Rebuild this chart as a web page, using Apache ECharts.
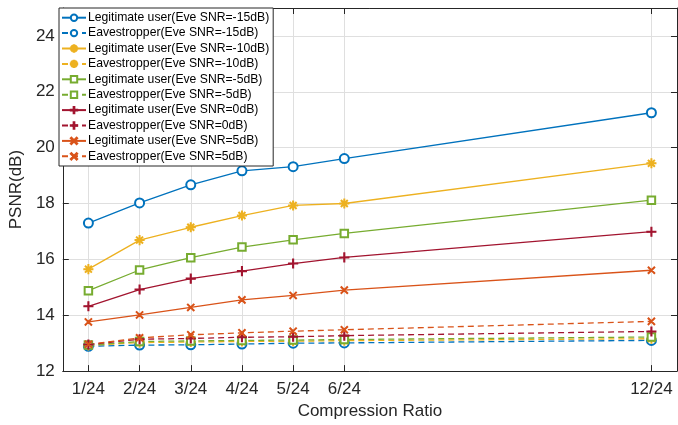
<!DOCTYPE html>
<html><head><meta charset="utf-8">
<script src="https://cdn.jsdelivr.net/npm/echarts@6/dist/echarts.min.js"></script>
<style>html,body{margin:0;padding:0;background:#fff}#c{width:678px;height:425px}</style>
</head><body><div id="c"></div>
<script>
const xValues = [1, 2, 3, 4, 5, 6, 12];
const xTickLabels = ['1/24', '2/24', '3/24', '4/24', '5/24', '6/24', '12/24'];
const yTicks = [12, 14, 16, 18, 20, 22, 24];

const legitM15 = [17.30, 18.02, 18.67, 19.17, 19.32, 19.61, 21.25];
const eveM15   = [12.89, 12.93, 12.94, 12.97, 13.00, 13.01, 13.10];
const legitM10 = [15.65, 16.69, 17.15, 17.57, 17.93, 18.00, 19.44];
const eveM10   = [12.92, 13.02, 13.04, 13.06, 13.07, 13.09, 13.16];
const legitM5  = [14.88, 15.62, 16.06, 16.44, 16.70, 16.93, 18.12];
const eveM5    = [12.93, 13.06, 13.08, 13.10, 13.11, 13.13, 13.22];
const legit0   = [14.32, 14.92, 15.31, 15.58, 15.85, 16.07, 16.99];
const eve0     = [12.95, 13.14, 13.17, 13.21, 13.23, 13.27, 13.42];
const legit5   = [13.76, 14.01, 14.28, 14.55, 14.71, 14.90, 15.61];
const eve5     = [12.96, 13.19, 13.30, 13.37, 13.43, 13.48, 13.78];

const seriesNames = [
  'Legitimate user(Eve SNR=-15dB)', 'Eavestropper(Eve SNR=-15dB)',
  'Legitimate user(Eve SNR=-10dB)', 'Eavestropper(Eve SNR=-10dB)',
  'Legitimate user(Eve SNR=-5dB)', 'Eavestropper(Eve SNR=-5dB)',
  'Legitimate user(Eve SNR=0dB)', 'Eavestropper(Eve SNR=0dB)',
  'Legitimate user(Eve SNR=5dB)', 'Eavestropper(Eve SNR=5dB)'
];
const seriesData = [legitM15, eveM15, legitM10, eveM10, legitM5, eveM5, legit0, eve0, legit5, eve5];

function segPath(segs, w) {
  return 'path://' + segs.map(([x1, y1, x2, y2]) => {
    const dx = x2 - x1, dy = y2 - y1, L = Math.hypot(dx, dy);
    const nx = -dy / L * w, ny = dx / L * w;
    return `M${x1 + nx},${y1 + ny}L${x2 + nx},${y2 + ny}L${x2 - nx},${y2 - ny}L${x1 - nx},${y1 - ny}Z`;
  }).join('');
}
const plusSym = segPath([[5, 0, 5, 10], [0, 5, 10, 5]], 0.55);
const crossSym = segPath([[0.5, 0.5, 9.5, 9.5], [0.5, 9.5, 9.5, 0.5]], 0.65);
const starSym = segPath([[5, 0, 5, 10], [0, 5, 10, 5], [1.6, 1.6, 8.4, 8.4], [1.6, 8.4, 8.4, 1.6]], 0.5);

const colors = ['#0072BD', '#0072BD', '#EDB120', '#EDB120', '#77AC30', '#77AC30', '#A2142F', '#A2142F', '#D95319', '#D95319'];
const symbols = ['emptyCircle', 'emptyCircle', starSym, starSym, 'emptyRect', 'emptyRect', plusSym, plusSym, crossSym, crossSym];
const sizes = [9, 9, 9, 9, 7.5, 7.5, 9, 9, 7, 7];

const axisColor = '#262626';
const font = 'Liberation Sans, Arial, Helvetica, sans-serif';

const series = seriesNames.map((name, i) => ({
  name, type: 'line',
  data: xValues.map((x, j) => [x, seriesData[i][j]]),
  symbol: symbols[i], symbolSize: sizes[i],
  lineStyle: { color: colors[i], width: 1.3, type: i % 2 ? [6, 4] : 'solid' },
  itemStyle: { color: colors[i], borderColor: colors[i], borderWidth: 1.1 },
  z: 3
}));

const chart = echarts.init(document.getElementById('c'), null, { renderer: 'canvas' });
chart.setOption({
  animation: false,
  color: colors,
  grid: { left: 59, right: 1, top: 8, bottom: 50, show: false },
  legend: {
    orient: 'vertical', left: 59, top: 8,
    backgroundColor: '#fff', borderColor: axisColor, borderWidth: 1,
    padding: [3, 4, 3, 2], itemGap: 2, itemWidth: 24, itemHeight: 8,
    textStyle: { fontFamily: font, fontSize: 12.2, color: '#000', lineHeight: 13.4, padding: [0, 0, 0, -3] },
    data: seriesNames
  },
  xAxis: [{
    type: 'value', min: 0.5, max: 12.5, position: 'bottom',
    name: 'Compression Ratio', nameLocation: 'middle', nameGap: 31,
    nameTextStyle: { fontFamily: font, fontSize: 17, color: axisColor },
    axisLine: { show: true, lineStyle: { color: axisColor, width: 1 } },
    axisTick: { show: true, inside: true, length: 6, customValues: xValues, lineStyle: { color: axisColor } },
    axisLabel: { customValues: xValues, formatter: v => xTickLabels[xValues.indexOf(v)] || '', fontFamily: font, fontSize: 17, color: axisColor, margin: 10 },
    splitLine: { show: true, lineStyle: { color: '#dfdfdf', width: 1 } }
  }, {
    type: 'value', min: 0.5, max: 12.5, position: 'top',
    axisLine: { show: true, onZero: false, lineStyle: { color: axisColor, width: 1 } },
    axisTick: { show: true, inside: true, length: 6, customValues: xValues, lineStyle: { color: axisColor } },
    axisLabel: { show: false }, splitLine: { show: false }
  }],
  yAxis: [{
    type: 'value', min: 12, max: 25, position: 'left',
    name: 'PSNR(dB)', nameLocation: 'middle', nameGap: 27,
    nameTextStyle: { fontFamily: font, fontSize: 17, color: axisColor },
    axisLine: { show: true, lineStyle: { color: axisColor, width: 1 } },
    axisTick: { show: true, inside: true, length: 6, customValues: yTicks, lineStyle: { color: axisColor } },
    axisLabel: { customValues: yTicks, fontFamily: font, fontSize: 17, color: axisColor, margin: 8 },
    splitLine: { show: true, lineStyle: { color: '#dfdfdf', width: 1 } }
  }, {
    type: 'value', min: 12, max: 25, position: 'right',
    axisLine: { show: true, onZero: false, lineStyle: { color: axisColor, width: 1 } },
    axisTick: { show: true, inside: true, length: 6, customValues: yTicks, lineStyle: { color: axisColor } },
    axisLabel: { show: false }, splitLine: { show: false }
  }],
  series
});
</script></body></html>
